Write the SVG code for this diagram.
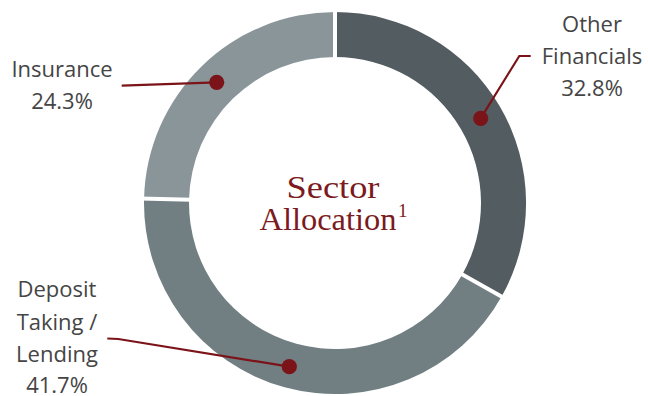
<svg xmlns="http://www.w3.org/2000/svg" width="648" height="396" viewBox="0 0 648 396">
<style>
.lbl{font-family:"Open Sans","Liberation Sans",sans-serif;font-size:22px;fill:#454545;text-anchor:middle}
.ttl{font-family:"Liberation Serif","DejaVu Serif",serif;font-size:31px;fill:#7b1a20}
.conn{fill:none;stroke:#7b1419;stroke-width:2.2;stroke-linejoin:miter}
.dot{fill:#7b1419}
.sep{stroke:#ffffff;stroke-width:4}
</style>
<rect width="648" height="396" fill="#ffffff"/>
<g id="ring">
<path id="seg-other" d="M 335 12 A 191 191 0 0 1 501.6 296.5 L 462.3 274.5 A 146 146 0 0 0 335 57 Z" fill="#525c61"/>
<path id="seg-deposit" d="M 501.6 296.5 A 191 191 0 0 1 144.05 198.67 L 189.04 199.69 A 146 146 0 0 0 462.3 274.5 Z" fill="#717f83"/>
<path id="seg-insurance" d="M 144.05 198.67 A 191 191 0 0 1 335 12 L 335 57 A 146 146 0 0 0 189.04 199.69 Z" fill="#8a959a"/>
<line class="sep" x1="335" y1="59" x2="335" y2="8"/>
<line class="sep" x1="460.6" y1="273.5" x2="505" y2="298.5"/>
<line class="sep" x1="191.04" y1="199.73" x2="140" y2="198.6"/>
</g>
<g id="center-title">
<text class="ttl" x="333" y="197.5" text-anchor="middle" textLength="93" lengthAdjust="spacingAndGlyphs">Sector</text>
<text class="ttl" x="259.5" y="229.5" textLength="137" lengthAdjust="spacingAndGlyphs">Allocation</text>
<text class="ttl" x="398" y="217" style="font-size:19px">1</text>
</g>
<g id="connectors">
<polyline class="conn" points="121.7,85.7 216.7,82.3"/>
<polyline class="conn" points="480.7,118.3 519.3,56 530.7,56"/>
<polyline class="conn" points="107.3,338.5 118.3,339 289.3,366.7"/>
<circle class="dot" cx="216.7" cy="82.3" r="7.6"/>
<circle class="dot" cx="480.7" cy="118.3" r="7.6"/>
<circle class="dot" cx="289.3" cy="366.7" r="7.6"/>
</g>
<g id="node-insurance">
<text class="lbl" x="62" y="77">Insurance</text>
<text class="lbl" x="62" y="108.5">24.3%</text>
</g>
<g id="node-other">
<text class="lbl" x="592" y="32">Other</text>
<text class="lbl" x="592" y="64">Financials</text>
<text class="lbl" x="592" y="96">32.8%</text>
</g>
<g id="node-deposit">
<text class="lbl" x="57" y="297">Deposit</text>
<text class="lbl" x="57" y="329.5">Taking /</text>
<text class="lbl" x="57" y="362">Lending</text>
<text class="lbl" x="57" y="393">41.7%</text>
</g>
</svg>
